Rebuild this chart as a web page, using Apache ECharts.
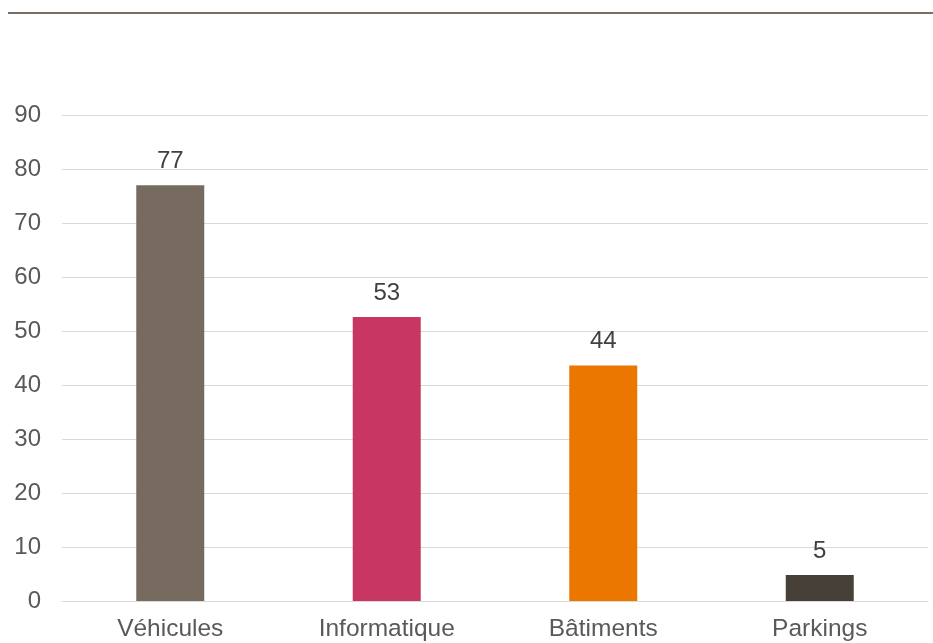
<!DOCTYPE html>
<html><head><meta charset="utf-8">
<script src="https://cdn.jsdelivr.net/npm/echarts@6/dist/echarts.min.js"></script>
<style>html,body{margin:0;padding:0;background:#fff}#c{width:933px;height:643px}</style>
</head><body><div id="c"></div>
<script>
const categories = ['Véhicules', 'Informatique', 'Bâtiments', 'Parkings'];
const values = [77, 52.6, 43.6, 4.8];
const colors = ['#776B5F', '#C83761', '#EC7700', '#464039'];
const yTicks = [0, 10, 20, 30, 40, 50, 60, 70, 80, 90];
const FONT = '"Liberation Sans", Arial, sans-serif';

const chart = echarts.init(document.getElementById('c'));
chart.setOption({
  animation: false,
  graphic: [{type: 'line', shape: {x1: 8, y1: 13, x2: 933, y2: 13}, style: {stroke: '#7A6E63', lineWidth: 2}}],
  grid: {left: 62, right: 5, top: 115, bottom: 42, containLabel: false},
  xAxis: {
    type: 'category', data: categories,
    axisLine: {show: true, lineStyle: {color: '#D9D9D9'}},
    axisTick: {show: false},
    axisLabel: {color: '#595959', fontSize: 24.5, fontFamily: FONT, margin: 16}
  },
  yAxis: {
    type: 'value', min: yTicks[0], max: yTicks[yTicks.length - 1], interval: 10,
    axisLine: {show: false}, axisTick: {show: false},
    splitLine: {lineStyle: {color: '#D9D9D9', width: 1}},
    axisLabel: {color: '#595959', fontSize: 24, fontFamily: FONT, margin: 21}
  },
  series: [{
    type: 'bar', barWidth: 68,
    data: values.map((v, i) => ({value: v, itemStyle: {color: colors[i]}})),
    label: {show: true, position: 'top', distance: 12, color: '#404040', fontSize: 24,
      fontFamily: FONT, formatter: p => Math.round(p.value)}
  }]
});
</script></body></html>
